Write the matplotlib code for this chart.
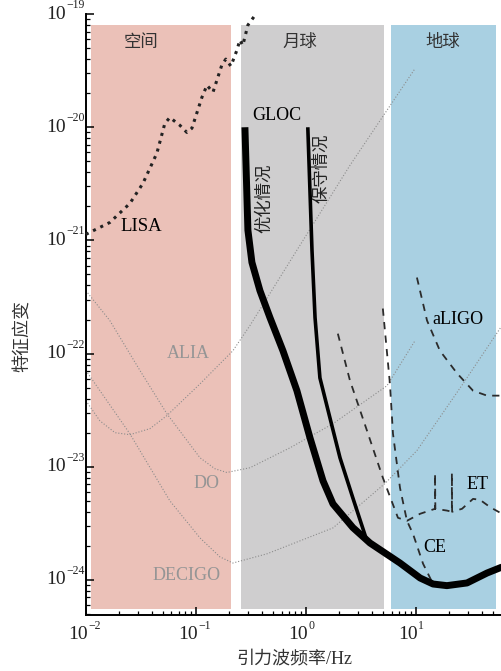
# Sensitivity curves of space / lunar / ground GW detectors (characteristic strain)
import numpy as np
import matplotlib
matplotlib.use("Agg")
import matplotlib.pyplot as plt
import matplotlib.ticker as mticker
import matplotlib.transforms as mtrans

plt.rcParams['font.family'] = ['Liberation Serif', 'Noto Sans CJK SC']
plt.rcParams['axes.unicode_minus'] = True

# ---- data ----
lisa_f = [0.0100, 0.0109, 0.0165, 0.0251, 0.033, 0.0442, 0.0522, 0.058, 0.0716, 0.0828,
          0.092, 0.1135, 0.126, 0.143, 0.172, 0.187, 0.208, 0.236, 0.251, 0.267, 0.297, 0.351]
lisa_h = [1.13e-21, 1.18e-21, 1.44e-21, 2.12e-21, 3.19e-21, 5.9e-21, 1.08e-20, 1.22e-20, 1.04e-20, 9.0e-21,
          9.8e-21, 1.84e-20, 2.35e-20, 2.04e-20, 3.54e-20, 4.0e-20, 3.47e-20, 4.8e-20, 5.9e-20, 5.3e-20, 8.0e-20, 1.0e-19]

gloc_opt_f = [0.279, 0.297, 0.323, 0.382, 0.471, 0.618, 0.828, 1.087, 1.43, 1.76, 2.67,
              3.82, 7.16, 10.9, 14.3, 19.1, 29.1, 44.2, 60.5]
gloc_opt_h = [1.0e-20, 1.23e-21, 6.4e-22, 3.6e-22, 2.08e-22, 1.06e-22, 4.7e-23, 1.81e-23, 7.5e-24, 4.7e-24, 2.9e-24,
              2.12e-24, 1.41e-24, 1.04e-24, 9.2e-25, 8.9e-25, 9.4e-25, 1.15e-24, 1.30e-24]

gloc_con_f = [1.04, 1.135, 1.21, 1.34, 1.65, 2.04, 2.67, 3.59]
gloc_con_h = [1.0e-20, 8.2e-22, 2.08e-22, 6.1e-23, 2.72e-23, 1.2e-23, 5.3e-24, 2.2e-24]

alia_f = [0.01, 0.0134, 0.0184, 0.0251, 0.0382, 0.0545, 0.109, 0.217, 0.31, 0.828, 2.51, 9.8]
alia_h = [3.84e-23, 2.55e-23, 2.0e-23, 1.92e-23, 2.17e-23, 2.83e-23, 5.4e-23, 1.06e-22, 1.77e-22, 8.2e-22, 4.6e-21, 3.3e-20]

do_f = [0.01, 0.0165, 0.031, 0.0545, 0.109, 0.149, 0.191, 0.31, 0.716, 1.76, 5.45, 9.8]
do_h = [3.6e-22, 1.96e-22, 7.1e-23, 2.94e-23, 1.2e-23, 9.6e-24, 8.9e-24, 9.8e-24, 1.47e-23, 2.4e-23, 5.2e-23, 1.3e-22]

decigo_f = [0.01, 0.0251, 0.058, 0.109, 0.165, 0.217, 0.442, 1.76, 5.22, 10.2, 26.7, 60.5]
decigo_h = [7.1e-23, 1.96e-23, 5.0e-24, 2.35e-24, 1.6e-24, 1.41e-24, 1.7e-24, 2.88e-24, 7.1e-24, 1.39e-23, 5.4e-23, 1.77e-22]

aligo_f = [10.2, 12.6, 16.5, 23.6, 33.0, 44.2, 60.5]
aligo_h = [4.7e-22, 1.96e-22, 1.06e-22, 6.7e-23, 4.7e-23, 4.25e-23, 4.25e-23]

et_f = [1.95, 2.51, 3.59, 5.0, 6.86, 8.28, 10.9, 14.9, 14.9, 15.0, 19.1, 21.2, 21.2, 21.3,
        26.2, 33.0, 38.2, 47.1, 60.5]
et_h = [1.5e-22, 5.8e-23, 2.08e-23, 8.0e-24, 3.54e-24, 3.33e-24, 3.84e-24, 4.25e-24, 8.7e-24, 4.25e-24, 4.1e-24, 4.0e-24, 8.8e-24, 4.0e-24,
        4.25e-24, 5.2e-24, 5.1e-24, 4.4e-24, 3.84e-24]

ce_f = [5.0, 5.8, 6.18, 7.16, 8.28, 9.4, 11.6, 14.3]
ce_h = [2.5e-22, 5.4e-23, 1.96e-23, 6.5e-24, 3.33e-24, 2.55e-24, 1.39e-24, 9.2e-25]

# frequency bands: space, moon, earth
band_lo = [0.0111, 0.256, 5.9]
band_hi = [0.208, 5.1, 53.0]
band_col = ['#ebc1b8', '#cfcecf', '#a9d0e2']
band_name = ['空间', '月球', '地球']
band_xc = [0.032, 0.88, 17.6]

x_exps = [-2, -1, 0, 1]
y_exps = [-24, -23, -22, -21, -20, -19]

fig = plt.figure(figsize=(5.02, 6.71), dpi=100)
ax = fig.add_axes([0.171, 0.0835, 0.829, 0.8955])

for lo, hi, c in zip(band_lo, band_hi, band_col):
    ax.axvspan(lo, hi, ymin=0.01, ymax=0.982, color=c, lw=0, zorder=0)
for xc, nm in zip(band_xc, band_name):
    ax.text(xc, 5.6e-20, nm, ha='center', va='center', fontsize=12.5, color='#333333')

gcol = '#8c8c8c'
for f, h in [(alia_f, alia_h), (do_f, do_h), (decigo_f, decigo_h)]:
    ax.plot(f, h, ls=':', lw=0.8, color=gcol, zorder=2)

for f, h in [(aligo_f, aligo_h), (et_f, et_h), (ce_f, ce_h)]:
    ax.plot(f, h, ls=(0, (4, 3.5)), lw=1.3, color='#2b2b2b', zorder=3)

ax.plot(lisa_f, lisa_h, ls=':', lw=2.2, color='#222222', zorder=4, clip_on=False)
ax.plot(gloc_con_f, gloc_con_h, lw=2.6, color='black', zorder=5, solid_capstyle='butt')
ax.plot(gloc_opt_f, gloc_opt_h, lw=5, color='black', zorder=5, solid_capstyle='butt')

ax.text(0.0316, 1.33e-21, 'LISA', ha='center', va='center', fontsize=13.5)
ax.text(0.545, 1.28e-20, 'GLOC', ha='center', va='center', fontsize=13)
ax.text(0.424, 2.35e-21, '优化情况', rotation=90, ha='center', va='center', fontsize=12.5, color='#222222')
ax.text(1.40, 4.3e-21, '保守情况', rotation=90, ha='center', va='center', fontsize=12.5, color='#222222')
ax.text(0.0845, 1.0e-22, 'ALIA', ha='center', va='center', fontsize=13, color='#959595')
ax.text(0.126, 7.1e-24, 'DO', ha='center', va='center', fontsize=13, color='#959595')
ax.text(0.0828, 1.1e-24, 'DECIGO', ha='center', va='center', fontsize=13, color='#959595')
ax.text(24.1, 2.0e-22, 'aLIGO', ha='center', va='center', fontsize=13)
ax.text(36.6, 6.9e-24, 'ET', ha='center', va='center', fontsize=13)
ax.text(14.9, 1.92e-24, 'CE', ha='center', va='center', fontsize=13)

ax.set_xscale('log')
ax.set_yscale('log')
ax.set_xlim(0.01, 60.5)
ax.set_ylim(4.9e-25, 1e-19)

ax.spines['top'].set_visible(False)
ax.spines['right'].set_visible(False)
ax.spines['left'].set_linewidth(1.4)
ax.spines['bottom'].set_linewidth(1.4)

ax.xaxis.set_major_locator(mticker.LogLocator(base=10, numticks=10))
ax.yaxis.set_major_locator(mticker.LogLocator(base=10, numticks=10))
ax.xaxis.set_minor_locator(mticker.LogLocator(base=10, subs=np.arange(2, 10), numticks=20))
ax.yaxis.set_minor_locator(mticker.LogLocator(base=10, subs=np.arange(2, 10), numticks=20))
ax.xaxis.set_major_formatter(mticker.NullFormatter())
ax.yaxis.set_major_formatter(mticker.NullFormatter())
ax.xaxis.set_minor_formatter(mticker.NullFormatter())
ax.yaxis.set_minor_formatter(mticker.NullFormatter())
ax.tick_params(which='major', direction='in', length=6, width=1.1)
ax.tick_params(which='minor', direction='in', length=3, width=0.9)

# tick labels written as "10" with a small superscript, like the original
tcol = '#222222'
ytr = ax.get_yaxis_transform()
for e in y_exps:
    v = 10.0 ** e
    ax.text(0, v, '10', transform=mtrans.offset_copy(ytr, fig, x=-14.5, y=0, units='points'),
            ha='right', va='center', fontsize=14, color=tcol, clip_on=False)
    ax.text(0, v, '\u2212' + str(-e), transform=mtrans.offset_copy(ytr, fig, x=-14.2, y=6.5, units='points'),
            ha='left', va='center', fontsize=8.5, color=tcol, clip_on=False)
xtr = ax.get_xaxis_transform()
for e in x_exps:
    v = 10.0 ** e
    lab = '\u2212' + str(-e) if e < 0 else str(e)
    ax.text(v, 0, '10', transform=mtrans.offset_copy(xtr, fig, x=1.2, y=-14.0, units='points'),
            ha='right', va='center', fontsize=14, color=tcol, clip_on=False)
    ax.text(v, 0, lab, transform=mtrans.offset_copy(xtr, fig, x=1.5, y=-8.0, units='points'),
            ha='left', va='center', fontsize=8.5, color=tcol, clip_on=False)

ax.set_xlabel('引力波频率/Hz', fontsize=13, color='#333333', labelpad=22)
ax.set_ylabel('特征应变', fontsize=13, color='#333333')
ax.yaxis.set_label_coords(-0.13, 0.464)

fig.savefig('out.png', dpi=100)
